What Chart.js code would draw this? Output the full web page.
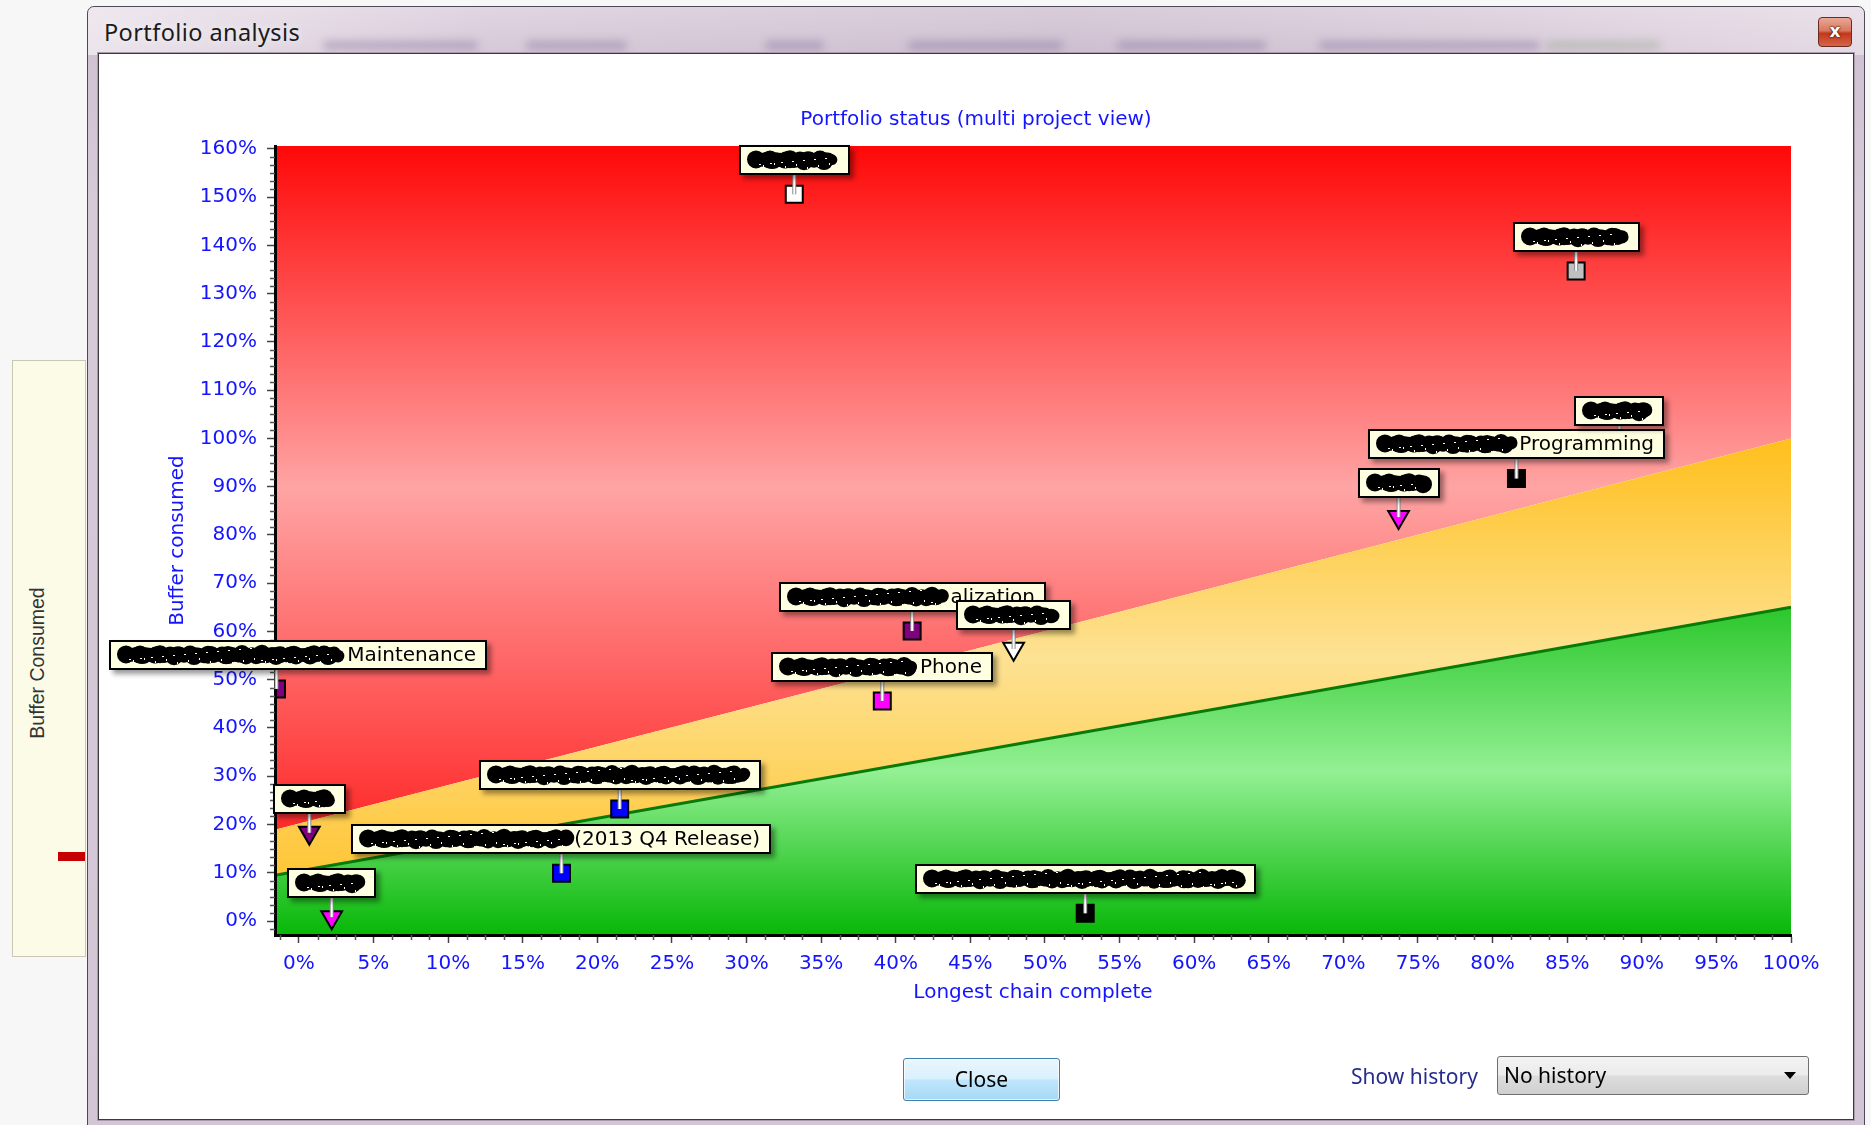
<!DOCTYPE html>
<html>
<head>
<meta charset="utf-8">
<title>Portfolio analysis</title>
<script src="https://cdn.jsdelivr.net/npm/chart.js@4.4.0/dist/chart.umd.min.js"></script>
<style>
  html, body { margin: 0; padding: 0; }
  body { width: 1871px; height: 1125px; overflow: hidden; position: relative; background: #f7f7f7; font-family: "Noto Sans", sans-serif; }
  #sidePanel { position: absolute; left: 12px; top: 360px; width: 74px; height: 597px; background: #fbfbe8; border: 1px solid #c9c9b3; box-sizing: border-box; overflow: hidden; }
  #sidePanel .cap { position: absolute; left: 24px; top: 302px; transform: translate(-50%, -50%) rotate(-90deg); white-space: nowrap; font: 19.5px "Liberation Sans", sans-serif; color: #333; }
  #sidePanel .bar { position: absolute; left: 45px; top: 491px; width: 40px; height: 9px; background: #c40000; }
  #frame { position: absolute; left: 87px; top: 6px; width: 1778px; height: 1130px; box-sizing: border-box; border: 1px solid #4c4a55; border-radius: 7px 7px 0 0;
           background: linear-gradient(180deg, #e4d9e4 0px, #d8cbd9 30px, #d0c2d2 48px, #d6c9d8 200px, #d3c5d5 100%); }
  #captionBar { position: absolute; left: 0; top: 0; width: 100%; height: 48px; border-radius: 7px 7px 0 0;
                background: linear-gradient(90deg, rgba(240,234,240,0.85) 0, rgba(220,208,222,0.4) 22%, rgba(196,180,200,0.35) 55%, rgba(222,210,222,0.4) 80%, rgba(236,228,236,0.7) 100%); }
  .haze { position: absolute; top: 34px; height: 9px; border-radius: 5px; background: rgba(110, 92, 140, 0.35); filter: blur(4px); }
  #caption { position: absolute; left: 16px; top: 9px; font-size: 23.5px; line-height: 32px; color: #1b1b1b; letter-spacing: 0.4px; text-shadow: 0 0 8px rgba(255,255,255,0.9); }
  #closeX { position: absolute; left: 1730px; top: 10px; width: 34px; height: 30px; box-sizing: border-box; border: 1px solid #6b2b20; border-radius: 4px;
            background: linear-gradient(180deg, #e9a896 0%, #d9785e 45%, #c3381b 55%, #d5654a 100%); color: #fff; font: bold 17px "DejaVu Sans", sans-serif;
            text-align: center; line-height: 26px; text-shadow: 0 0 2px #4a1008, 0 0 2px #4a1008; }
  #panel { position: absolute; left: 99px; top: 54px; width: 1754px; height: 1065px; background: #fff; box-shadow: 0 0 0 1px #3a3a3a, 0 0 0 2px #a999aa; }
  #portfolioChart { position: absolute; left: 0; top: 0; }
  #closeBtn { position: absolute; left: 903px; top: 1058px; width: 157px; height: 43px; box-sizing: border-box; border: 1px solid #3c7fb1; border-radius: 3px;
              background: linear-gradient(180deg, #eaf6fd 0%, #d9f0fc 48%, #bee6fd 52%, #a7d9f5 100%); box-shadow: inset 0 0 0 1px rgba(255,255,255,0.7);
              font-size: 21px; line-height: 41px; text-align: center; color: #000; }
  #historyLabel { position: absolute; left: 1351px; top: 1061px; font-size: 21px; line-height: 30px; color: #262b8c; }
  #historySelect { position: absolute; left: 1497px; top: 1056px; width: 312px; height: 39px; box-sizing: border-box; border: 1px solid #707070; border-radius: 3px;
                   background: linear-gradient(180deg, #f3f3f3 0%, #ebebeb 48%, #dddddd 52%, #cfcfcf 100%); font-size: 21px; line-height: 37px; padding-left: 6px; color: #000; }
  #historySelect .arrow { position: absolute; right: 12px; top: 15px; width: 0; height: 0; border-left: 6px solid transparent; border-right: 6px solid transparent; border-top: 7px solid #000; }
</style>
</head>
<body>
<div id="sidePanel"><div class="cap">Buffer Consumed</div><div class="bar"></div></div>
<div id="frame">
  <div id="captionBar"></div>
  <div class="haze" style="left:235px;width:155px"></div>
  <div class="haze" style="left:438px;width:101px"></div>
  <div class="haze" style="left:677px;width:59px"></div>
  <div class="haze" style="left:820px;width:155px"></div>
  <div class="haze" style="left:1029px;width:149px"></div>
  <div class="haze" style="left:1231px;width:221px"></div>
  <div class="haze" style="left:1458px;width:114px;background:rgba(120,150,110,0.3)"></div>
  <div id="caption">Portfolio analysis</div>
  <div id="closeX">x</div>
</div>
<div id="panel"><canvas id="portfolioChart" width="1754" height="1065"></canvas></div>
<div id="closeBtn">Close</div>
<div id="historyLabel">Show history</div>
<div id="historySelect">No history<span class="arrow"></span></div>

<script>
// zone limits: buffer consumed (%) at the left and right edge of the chart
var limitX = [-1.6, 100];
var greenLimit = [9.5, 65];
var yellowLimit = [18.9, 100];

// projects: chain complete (%) and buffer consumed (%)
var projectX = [33.2, 85.6, 81.6, 88.5, 73.7, 41.1, 47.9, 39.1, -1.5, 0.7, 2.2, 21.5, 17.6, 52.7];
var projectY = [150.6, 134.7, 91.7, 98.6, 83.7, 60.1, 56.4, 45.6, 48.1, 18.3, 0.8, 23.2, 9.9, 1.6];
var projectShape = ['rect', 'rect', 'rect', 'rect', 'triangle', 'rect', 'triangle', 'rect', 'rect', 'triangle', 'triangle', 'rect', 'rect', 'rect'];
var projectColor = ['#ffffff', '#c0c0c0', '#000000', '#000000', '#ff00ff', '#800080', '#ffffff', '#ff00ff', '#800080', '#800080', '#ff00ff', '#0000ff', '#0000ff', '#000000'];
// readable tail of each project name (the rest is blacked out)
var projectText = ['', '', 'Programming', '', '', 'alization', '', 'Phone', 'Maintenance', '', '', '', '(2013 Q4 Release)', ''];

var xTicks = [0, 5, 10, 15, 20, 25, 30, 35, 40, 45, 50, 55, 60, 65, 70, 75, 80, 85, 90, 95, 100];
var yTicks = [0, 10, 20, 30, 40, 50, 60, 70, 80, 90, 100, 110, 120, 130, 140, 150, 160];

// callout box widths and horizontal shift
var boxWidths = [111, 127, 297, 90, 82, 267, 115, 222, 378, 73, 89, 282, 420, 341];
var boxShift = [0, 0, 0, 0, 0, 0, 0, 0, 22, 0, 0, 0, 0, 0];

var blue = '#1414ff';
var axisFont = { family: '"DejaVu Sans"', size: 20, weight: 'normal' };

function limitPoints(vals) {
    return limitX.map(function (x, i) { return { x: x, y: vals[i] }; });
}

// vertical gradient: strong at both edges of the zone, light in the middle
function zoneGradient(colors, topVal, bottomVal) {
    return function (context) {
        var chart = context.chart;
        if (!chart.chartArea) return colors[1];
        var y = chart.scales.y;
        var top = topVal === 'max' ? y.max : topVal;
        var bottom = bottomVal === 'min' ? y.min : bottomVal;
        var g = chart.ctx.createLinearGradient(0, y.getPixelForValue(top), 0, y.getPixelForValue(bottom));
        g.addColorStop(0, colors[0]);
        g.addColorStop(0.5, colors[1]);
        g.addColorStop(1, colors[2]);
        return g;
    };
}

// small tick marks between the labelled ones
var minorTicks = {
    id: 'minorTicks',
    afterDraw: function (chart) {
        var c = chart.ctx, area = chart.chartArea, x = chart.scales.x, y = chart.scales.y;
        c.save();
        c.strokeStyle = '#555';
        c.lineWidth = 1.5;
        c.beginPath();
        for (var k = -1; k <= 80; k++) {
            if (k % 4 === 0) continue;
            var px = Math.round(x.getPixelForValue(k * 1.25)) + 0.5;
            c.moveTo(px, area.bottom);
            c.lineTo(px, area.bottom + 5);
        }
        for (var j = -1; j <= 96; j++) {
            if (j % 6 === 0) continue;
            var py = Math.round(y.getPixelForValue(j * 10 / 6)) + 0.5;
            c.moveTo(area.left, py);
            c.lineTo(area.left - 5, py);
        }
        c.stroke();
        c.restore();
    }
};

function scribble(c, x0, cy, w) {
    c.fillStyle = '#000';
    for (var i = 6; i <= w - 6; i += 2) {
        var r = 7 + 1.6 * Math.sin(i * 0.37) + 1.2 * Math.sin(i * 1.3);
        c.beginPath();
        c.arc(x0 + i, cy + 1.2 * Math.sin(i * 0.61), Math.max(4.5, Math.min(r, 9)), 0, Math.PI * 2);
        c.fill();
    }
    c.fillStyle = '#fffbe8';
    for (var s = 9; s < w - 9; s += 11) {
        c.fillRect(x0 + s, cy - 7 + (s * 7) % 13, 2, 1);
        c.fillRect(x0 + s + 4, cy + 3 + (s * 3) % 5, 1, 2);
    }
}

// project name callouts: leader line from the marker up to a tooltip-style box
var callouts = {
    id: 'callouts',
    afterDraw: function (chart) {
        var c = chart.ctx;
        var pts = chart.getDatasetMeta(3).data;
        c.save();
        pts.forEach(function (p) {
            var top = p.y - 19;
            c.lineCap = 'butt';
            c.strokeStyle = '#8a8a8a';
            c.lineWidth = 4;
            c.beginPath(); c.moveTo(p.x, top); c.lineTo(p.x, p.y); c.stroke();
            c.strokeStyle = '#ffffff';
            c.lineWidth = 2;
            c.beginPath(); c.moveTo(p.x, top); c.lineTo(p.x, p.y); c.stroke();
        });
        c.font = '20px "DejaVu Sans"';
        c.textBaseline = 'middle';
        pts.forEach(function (p, i) {
            var w = boxWidths[i], h = 30;
            var left = Math.round(p.x + boxShift[i] - w / 2);
            var top = Math.round(p.y - 19 - h);
            c.save();
            c.shadowColor = 'rgba(0,0,0,0.4)';
            c.shadowBlur = 5;
            c.shadowOffsetX = 4;
            c.shadowOffsetY = 4;
            c.fillStyle = '#ffffe1';
            c.fillRect(left, top, w, h);
            c.restore();
            c.strokeStyle = '#000';
            c.lineWidth = 2;
            c.strokeRect(left + 1, top + 1, w - 2, h - 2);
            var text = projectText[i];
            var tw = text ? c.measureText(text).width + 2 : 0;
            var hidden = w - 22 - tw;
            scribble(c, left + 11, top + h / 2, hidden);
            if (text) {
                c.fillStyle = '#000';
                c.fillText(text, left + 11 + hidden + 2, top + h / 2 + 1);
            }
        });
        c.restore();
    }
};

var ctx = document.getElementById('portfolioChart').getContext('2d');
var portfolioChart = new Chart(ctx, {
    type: 'scatter',
    data: {
        datasets: [
            {
                type: 'line',
                label: 'Green',
                data: limitPoints(greenLimit),
                borderColor: '#087a08',
                borderWidth: 3,
                pointRadius: 0,
                fill: 'start',
                backgroundColor: zoneGradient(['#2cc72c', '#93f093', '#07b707'], Math.max.apply(null, greenLimit), 'min')
            },
            {
                type: 'line',
                label: 'Yellow',
                data: limitPoints(yellowLimit),
                borderWidth: 0,
                borderColor: 'rgba(0,0,0,0)',
                pointRadius: 0,
                fill: '-1',
                backgroundColor: zoneGradient(['#ffbf1c', '#fde293', '#ffc636'], Math.max.apply(null, yellowLimit), Math.min.apply(null, greenLimit))
            },
            {
                type: 'line',
                label: 'Red',
                data: limitPoints(yellowLimit),
                borderWidth: 0,
                borderColor: 'rgba(0,0,0,0)',
                pointRadius: 0,
                fill: 'end',
                backgroundColor: zoneGradient(['#ff0808', '#ffa4a4', '#ff2a2a'], 'max', Math.min.apply(null, yellowLimit))
            },
            {
                label: 'Projects',
                order: -1,
                clip: 0,
                data: projectX.map(function (x, i) { return { x: x, y: projectY[i] }; }),
                pointStyle: projectShape,
                rotation: projectShape.map(function (s) { return s === 'triangle' ? 180 : 0; }),
                pointRadius: 12,
                pointBackgroundColor: projectColor,
                pointBorderColor: '#000',
                pointBorderWidth: 2
            }
        ]
    },
    options: {
        responsive: false,
        animation: false,
        events: [],
        layout: { padding: { left: 62, right: 62, top: 40, bottom: 116 } },
        plugins: {
            legend: { display: false },
            tooltip: { enabled: false },
            title: {
                display: true,
                text: 'Portfolio status (multi project view)',
                color: blue,
                font: axisFont,
                padding: { top: 14, bottom: 14 }
            }
        },
        scales: {
            x: {
                type: 'linear',
                min: -1.6,
                max: 100,
                afterBuildTicks: function (s) { s.ticks = xTicks.map(function (v) { return { value: v }; }); },
                afterFit: function (s) { s.height = 68; },
                grid: { drawOnChartArea: false, tickLength: 8, tickColor: '#444', tickWidth: 1.5 },
                border: { color: '#000', width: 3, z: 1 },
                ticks: { color: blue, font: axisFont, padding: 9, maxRotation: 0, autoSkip: false,
                         callback: function (v) { return v + '%'; } },
                title: { display: true, text: 'Longest chain complete', color: blue, font: axisFont, padding: { top: 0, bottom: -2 } }
            },
            y: {
                type: 'linear',
                min: -2.9,
                max: 160.6,
                afterBuildTicks: function (s) { s.ticks = yTicks.map(function (v) { return { value: v }; }); },
                afterFit: function (s) { s.width = 114; },
                grid: { drawOnChartArea: false, tickLength: 8, tickColor: '#444', tickWidth: 1.5 },
                border: { color: '#000', width: 3, z: 1 },
                ticks: { color: blue, font: axisFont, padding: 10,
                         callback: function (v) { return v + '%'; } },
                title: { display: true, text: 'Buffer consumed', color: blue, font: axisFont, padding: { top: 5, bottom: 0 } }
            }
        }
    },
    plugins: [minorTicks, callouts]
});
</script>
</body>
</html>
